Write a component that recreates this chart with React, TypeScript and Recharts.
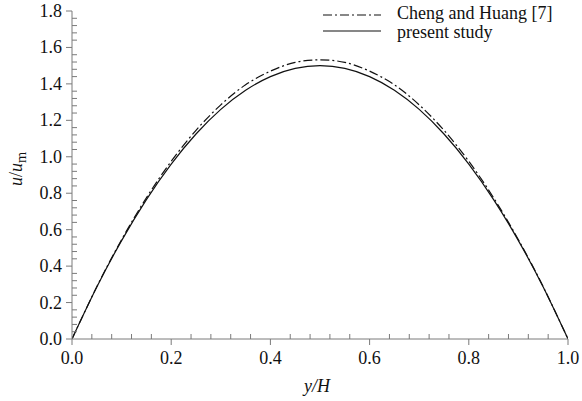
import React from "react";
import { LineChart, Line, XAxis, YAxis, Legend } from "recharts";

const yOverH = [0, 0.05, 0.1, 0.15, 0.2, 0.25, 0.3, 0.35, 0.4, 0.45, 0.5, 0.55, 0.6, 0.65, 0.7, 0.75, 0.8, 0.85, 0.9, 0.95, 1.0];
const chengHuang = [0, 0.287, 0.545, 0.775, 0.975, 1.145, 1.285, 1.395, 1.47, 1.518, 1.532, 1.518, 1.47, 1.395, 1.285, 1.145, 0.975, 0.775, 0.545, 0.287, 0];
const presentStudy = [0, 0.285, 0.54, 0.765, 0.96, 1.125, 1.26, 1.365, 1.44, 1.485, 1.5, 1.485, 1.44, 1.365, 1.26, 1.125, 0.96, 0.765, 0.54, 0.285, 0];

const xMajorTicks = [0, 0.2, 0.4, 0.6, 0.8, 1.0];
const yMajorTicks = [0, 0.2, 0.4, 0.6, 0.8, 1.0, 1.2, 1.4, 1.6, 1.8];
const minorDivisions = 5;

const seriesNames = ["Cheng and Huang [7]", "present study"];

const data = yOverH.map((x, i) => ({ x, cheng: chengHuang[i], present: presentStudy[i] }));

function withMinor(majors: number[]) {
  const out: number[] = [];
  for (let i = 0; i < majors.length; i++) {
    out.push(majors[i]);
    if (i < majors.length - 1) {
      const step = (majors[i + 1] - majors[i]) / minorDivisions;
      for (let k = 1; k < minorDivisions; k++) out.push(+(majors[i] + step * k).toFixed(4));
    }
  }
  return out;
}
const xTicks = withMinor(xMajorTicks);
const yTicks = withMinor(yMajorTicks);

const isMajor = (v: number, majors: number[]) => majors.some((m) => Math.abs(m - v) < 1e-6);

const AXIS = "#7a7a7a";
const FONT = "'Liberation Serif', 'Times New Roman', serif";
const FS = 18;
const MAJ = 6;
const MIN = 5;

const BottomTick = (p: any) => {
  const { x, y, payload } = p;
  if (isMajor(payload.value, xMajorTicks)) {
    return (
      <g>
        <line x1={x} x2={x} y1={y} y2={y + MAJ} stroke={AXIS} />
        <text x={x} y={y + 25} textAnchor="middle" fontFamily={FONT} fontSize={FS} fill="#111">
          {Number(payload.value).toFixed(1)}
        </text>
      </g>
    );
  }
  return <line x1={x} x2={x} y1={y} y2={y - MIN} stroke={AXIS} />;
};

const TopTick = (p: any) => {
  const { x, y, payload } = p;
  if (isMajor(payload.value, xMajorTicks)) return <line x1={x} x2={x} y1={y} y2={y - MAJ} stroke={AXIS} />;
  return <line x1={x} x2={x} y1={y} y2={y + MIN} stroke={AXIS} />;
};

const LeftTick = (p: any) => {
  const { x, y, payload } = p;
  if (isMajor(payload.value, yMajorTicks)) {
    return (
      <g>
        <line x1={x - MAJ} x2={x} y1={y} y2={y} stroke={AXIS} />
        <text x={x - 10} y={y + 6} textAnchor="end" fontFamily={FONT} fontSize={FS} fill="#111">
          {Number(payload.value).toFixed(1)}
        </text>
      </g>
    );
  }
  return <line x1={x} x2={x + MIN} y1={y} y2={y} stroke={AXIS} />;
};

const RightTick = (p: any) => {
  const { x, y, payload } = p;
  if (isMajor(payload.value, yMajorTicks)) return <line x1={x} x2={x + MAJ} y1={y} y2={y} stroke={AXIS} />;
  return <line x1={x - MIN} x2={x} y1={y} y2={y} stroke={AXIS} />;
};

const LegendContent = () => (
  <svg width={270} height={45} style={{ display: "block" }}>
    <line x1={23} x2={81} y1={15} y2={15} stroke="#111" strokeWidth={1.2} strokeDasharray="9 3 2 3" />
    <text x={97} y={19} fontFamily={FONT} fontSize={FS} fill="#111">{seriesNames[0]}</text>
    <line x1={23} x2={81} y1={31} y2={31} stroke="#111" strokeWidth={1.2} />
    <text x={97} y={38} fontFamily={FONT} fontSize={FS} fill="#111">{seriesNames[1]}</text>
  </svg>
);

export default function App() {
  return (
    <div style={{ position: "absolute", left: 0, top: 0, width: 582, height: 401, background: "#fff" }}>
      <LineChart width={582} height={401} data={data} margin={{ top: 11, right: 14, left: 0, bottom: 0 }}>
        <XAxis
          dataKey="x"
          type="number"
          domain={[0, 1]}
          ticks={xTicks}
          interval={0}
          tickSize={0}
          tickMargin={0}
          tick={<BottomTick />}
          axisLine={{ stroke: AXIS }}
          tickLine={false}
          height={62}
          allowDataOverflow
        />
        <XAxis
          xAxisId="top"
          orientation="top"
          dataKey="x"
          type="number"
          domain={[0, 1]}
          ticks={xTicks}
          interval={0}
          tickSize={0}
          tickMargin={0}
          tick={<TopTick />}
          axisLine={{ stroke: AXIS }}
          tickLine={false}
          height={0}
          allowDataOverflow
        />
        <YAxis
          type="number"
          domain={[0, 1.8]}
          ticks={yTicks}
          interval={0}
          tickSize={0}
          tickMargin={0}
          tick={<LeftTick />}
          axisLine={{ stroke: AXIS }}
          tickLine={false}
          width={72}
          allowDataOverflow
        />
        <YAxis
          yAxisId="right"
          orientation="right"
          type="number"
          domain={[0, 1.8]}
          ticks={yTicks}
          interval={0}
          tickSize={0}
          tickMargin={0}
          tick={<RightTick />}
          axisLine={{ stroke: AXIS }}
          tickLine={false}
          width={0}
          allowDataOverflow
        />
        <Legend
          layout="vertical"
          align="center"
          verticalAlign="middle"
          content={<LegendContent />}
          wrapperStyle={{ left: 300, top: 0, width: 270, height: 45 }}
        />
        <Line
          name={seriesNames[0]}
          dataKey="cheng"
          type="natural"
          stroke="#111"
          strokeWidth={1.2}
          strokeDasharray="9 3 2 3"
          dot={false}
          isAnimationActive={false}
        />
        <Line
          name={seriesNames[1]}
          dataKey="present"
          type="natural"
          stroke="#111"
          strokeWidth={1.2}
          dot={false}
          isAnimationActive={false}
        />
      </LineChart>
      <svg width={582} height={401} style={{ position: "absolute", left: 0, top: 0, pointerEvents: "none" }}>
        <text x={317} y={392} textAnchor="middle" fontFamily={FONT} fontSize={FS} fontStyle="italic" fill="#111">
          y/H
        </text>
        <text transform="translate(22,169) rotate(-90)" textAnchor="middle" fontFamily={FONT} fontSize={FS} fill="#111">
          <tspan fontStyle="italic">u</tspan>
          <tspan>/</tspan>
          <tspan fontStyle="italic">u</tspan>
          <tspan fontSize={FS * 0.8} dy={4}>m</tspan>
        </text>
      </svg>
    </div>
  );
}
